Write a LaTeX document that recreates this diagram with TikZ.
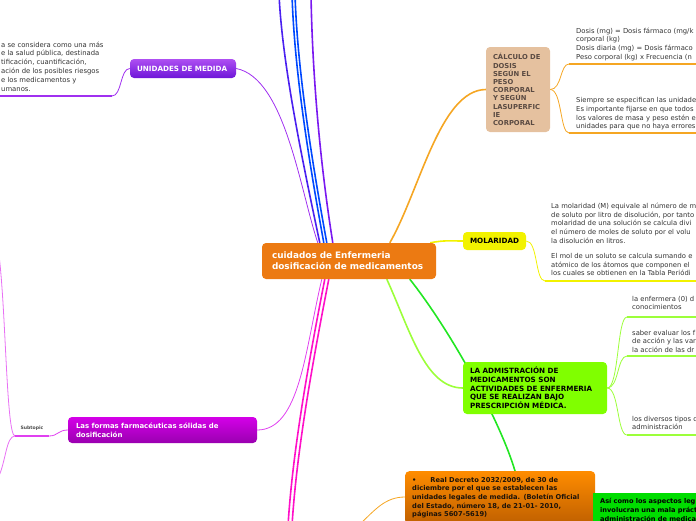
\documentclass[tikz,border=0pt]{standalone}
\usepackage{fontspec}
\setmainfont{DejaVu Sans}
\usetikzlibrary{positioning,backgrounds}

\definecolor{centralorange}{HTML}{EC7A12}
\definecolor{calcfill}{HTML}{E5C19F}
\definecolor{calctext}{HTML}{5A4A42}
\definecolor{calcline}{HTML}{F5A623}
\definecolor{molarfill}{HTML}{F2F200}
\definecolor{adminfill}{HTML}{80FF00}
\definecolor{adminline}{HTML}{9CFF3A}
\definecolor{decretoline}{HTML}{22E622}
\definecolor{legalfill}{HTML}{00DD00}
\definecolor{unidadline}{HTML}{A030F0}
\definecolor{blueline}{HTML}{0048FF}
\definecolor{indigoline}{HTML}{4A20F0}
\definecolor{violetline}{HTML}{7A18F0}
\definecolor{formasline}{HTML}{E040F0}
\definecolor{formastop}{HTML}{D400E8}
\definecolor{formasbottom}{HTML}{9A00B0}
\definecolor{pinkline}{HTML}{FF10C8}
\definecolor{notetext}{HTML}{333333}

\begin{document}
\begin{tikzpicture}
	[x=1pt,y=-1pt,
	topic/.style={rounded corners=4pt,inner xsep=7pt,inner ysep=0pt,align=left,
		font=\bfseries\fontsize{7.2}{8.7}\selectfont},
	note/.style={anchor=base west,inner sep=0pt,align=left,text=notetext,
		font=\fontsize{6.8}{8.7}\selectfont},
	under/.style={line width=1.8pt},
	branch/.style={line width=0.8pt},
	trunk/.style={line width=1.6pt}]
	\useasboundingbox (0,0) rectangle (696,520);
	\clip (0,0) rectangle (696,520);

	% central topic
	\node [topic,fill=centralorange,text=white,inner xsep=10pt,text width=154pt,minimum height=36pt,
		font=\bfseries\fontsize{8.9}{11}\selectfont] (central) at (349,261)
		{cuidados de Enfermeria\\dosificación de medicamentos};

	% main topics
	\node [topic,top color=unidadline!85,bottom color=violetline!90!black,text=white,text width=92pt,minimum height=19pt]
		(unidades) at (183,68.5) {UNIDADES DE MEDIDA};
	\node [topic,fill=calcfill,text=calctext,text width=50pt,minimum height=85pt,
		font=\bfseries\fontsize{6.8}{8.2}\selectfont] (calc) at (518,89.5)
		{CÁLCULO DE\\DOSIS\\SEGÚN EL\\PESO\\CORPORAL\\Y SEGÚN\\LASUPERFIC\\IE\\CORPORAL};
	\node [topic,fill=molarfill,text=black,text width=49pt,minimum height=18pt] (molar) at (494.5,241) {MOLARIDAD};
	\node [topic,fill=adminfill,text=black,text width=130pt,minimum height=52pt] (admin) at (535,388)
		{LA ADMISTRACIÓN DE\\MEDICAMENTOS SON\\ACTIVIDADES DE ENFERMERIA\\QUE SE REALIZAN BAJO\\PRESCRIPCIÓN MÉDICA.};
	\node [topic,anchor=north west,top color=orange!90!yellow,bottom color=orange!75!black,text=black!85!brown,
		text width=176pt,inner ysep=6pt,font=\bfseries\fontsize{6.7}{8.6}\selectfont] (decreto) at (405,471)
		{\textbullet\hspace{14pt}Real Decreto 2032/2009, de 30 de\\diciembre por el que se establecen las\\unidades legales de medida. (Boletín Oficial\\del Estado, número 18, de 21-01- 2010,\\páginas 5607-5619)};
	\node [topic,anchor=north west,fill=legalfill,text=black,text width=110pt,inner ysep=5.5pt,rounded corners=0pt,
		font=\bfseries\fontsize{6.6}{9}\selectfont] (legal) at (593,493)
		{Así como los aspectos leg\\involucran una mala práct\\administración de medica};
	\node [topic,top color=formastop,bottom color=formasbottom,text=white,inner xsep=8pt,
		text width=173pt,minimum height=26pt,font=\bfseries\fontsize{6.95}{9}\selectfont] (formas) at (162.5,430)
		{Las formas farmacéuticas sólidas de\\dosificación};

	% notes (placed by the baseline of their last line)
	\node [note,font=\fontsize{6.85}{8.8}\selectfont] (unidadesNote) at (1,91)
		{a se considera como una más\\e la salud pública, destinada\\tificación, cuantificación,\\ación de los posibles riesgos\\e los medicamentos y\\umanos.};
	\node [note] (calcNoteA) at (576,59.1)
		{Dosis (mg) = Dosis fármaco (mg/k\\corporal (kg)\\Dosis diaria (mg) = Dosis fármaco\\Peso corporal (kg) x Frecuencia (n};
	\node [note,font=\fontsize{6.8}{8.8}\selectfont] (calcNoteB) at (576,128.9)
		{Siempre se especifican las unidade\\Es importante fijarse en que todos\\los valores de masa y peso estén e\\unidades para que no haya errores};
	\node [note] (molarNote) at (551,275.9)
		{La molaridad (M) equivale al número de m\\de soluto por litro de disolución, por tanto\\molaridad de una solución se calcula divi\\el número de moles de soluto por el volu\\la disolución en litros.\\[6.5pt]El mol de un soluto se calcula sumando e\\atómico de los átomos que componen el\\los cuales se obtienen en la Tabla Periódi};
	\node [note] (adminNoteA) at (632,309.7) {la enfermera (0) d\\conocimientos};
	\node [note] (adminNoteB) at (632,352.4) {saber evaluar los f\\de acción y las var\\la acción de las dr};
	\node [note] (adminNoteC) at (632,429.7) {los diversos tipos d\\administración};
	\node [font=\bfseries\fontsize{4.6}{5}\selectfont,text=black!70,inner sep=0pt] (subtopic) at (32,428) {Subtopic};

	% underline ends
	\coordinate (unidadesUl) at (112,96);
	\coordinate (calcUlA) at (569,64);
	\coordinate (calcUlB) at (569,133);
	\coordinate (molarUl) at (545,281);
	\coordinate (adminUlA) at (627,317);
	\coordinate (adminUlB) at (627,356);
	\coordinate (adminUlC) at (627,435);
	\coordinate (subtopicUl) at (15,436);

	% branches leaving the picture
	\coordinate (up1) at (279,-6);
	\coordinate (up2) at (292,-6);
	\coordinate (up3) at (295,-6);
	\coordinate (up4) at (311,-6);
	\coordinate (down1) at (288,526);
	\coordinate (down2) at (292,526);
	\coordinate (decretoOut) at (360,524);
	\coordinate (subtopicOutA) at (-2,248);
	\coordinate (subtopicOutB) at (-2,478);

	\begin{scope}[on background layer]
	% connectors from the central topic
	\draw [branch,unidadline] ([xshift=56pt]central.north west) .. controls (300,190) and (285,78) .. (unidades.east);
	\draw [trunk,indigoline] ([xshift=58pt]central.north west) .. controls (300,150) and (282,60) .. (up1);
	\draw [trunk,blueline] ([xshift=62pt]central.north west) .. controls (305,140) and (294,60) .. (up2);
	\draw [trunk,blueline] ([xshift=65pt]central.north west) .. controls (308,140) and (297,60) .. (up3);
	\draw [trunk,violetline] ([xshift=71pt]central.north west) .. controls (318,150) and (312,60) .. (up4);
	\draw [trunk,calcline] ([xshift=128pt]central.north west) .. controls (420,190) and (440,90) .. (calc.west);
	\draw [trunk,molarfill] ([xshift=-6pt]central.north east) .. controls (445,240) and (450,241) .. (molar.west);
	\draw [branch,formasline] ([xshift=60pt]central.south west) .. controls (305,350) and (300,430) .. (formas.east);
	\draw [trunk,pinkline] ([xshift=63pt]central.south west) .. controls (305,380) and (292,460) .. (down1);
	\draw [trunk,pinkline] ([xshift=67pt]central.south west) .. controls (309,380) and (296,460) .. (down2);
	\draw [trunk,adminline] ([xshift=125pt]central.south west) .. controls (410,330) and (425,388) .. (admin.west);
	\draw [trunk,decretoline] ([xshift=148pt]central.south west) .. controls (450,330) and (500,420) .. ([xshift=110pt]decreto.north west);

	% connectors from topics to their notes
	\draw [branch,unidadline] (unidades.west) .. controls (120,68.5) and (122,96) .. (unidadesUl);
	\draw [branch,calcline] (calc.east) .. controls (562,89.5) and (560,64) .. (calcUlA);
	\draw [branch,calcline] (calc.east) .. controls (562,89.5) and (560,133) .. (calcUlB);
	\draw [branch,molarfill] (molar.east) .. controls (538,241) and (535,281) .. (molarUl);
	\draw [branch,adminline] (admin.east) .. controls (619,388) and (617,317) .. (adminUlA);
	\draw [branch,adminline] (admin.east) .. controls (619,388) and (617,356) .. (adminUlB);
	\draw [branch,adminline] (admin.east) .. controls (619,388) and (617,435) .. (adminUlC);
	\draw [branch,calcline] ([yshift=-26pt]decreto.north west) .. controls (385,497) and (375,510) .. (decretoOut);
	\draw [branch,formasline] (formas.west) .. controls (58,430) and (58,436) .. ([xshift=34pt]subtopicUl);
	\draw [branch,formasline!75] (subtopicUl) .. controls (6,436) and (6,300) .. (subtopicOutA);
	\draw [branch,formasline!75] (subtopicUl) .. controls (6,436) and (6,462) .. (subtopicOutB);

	% underlines
	\draw [under,unidadline] (unidadesUl) -- (0,96);
	\draw [under,calcline] (calcUlA) -- ++(130,0);
	\draw [under,calcline] (calcUlB) -- ++(130,0);
	\draw [under,molarfill] (molarUl) -- ++(155,0);
	\draw [under,adminline] (adminUlA) -- ++(75,0);
	\draw [under,adminline] (adminUlB) -- ++(75,0);
	\draw [under,adminline] (adminUlC) -- ++(75,0);
	\draw [under,formasline] (subtopicUl) -- ++(34,0);
	\end{scope}
\end{tikzpicture}
\end{document}
